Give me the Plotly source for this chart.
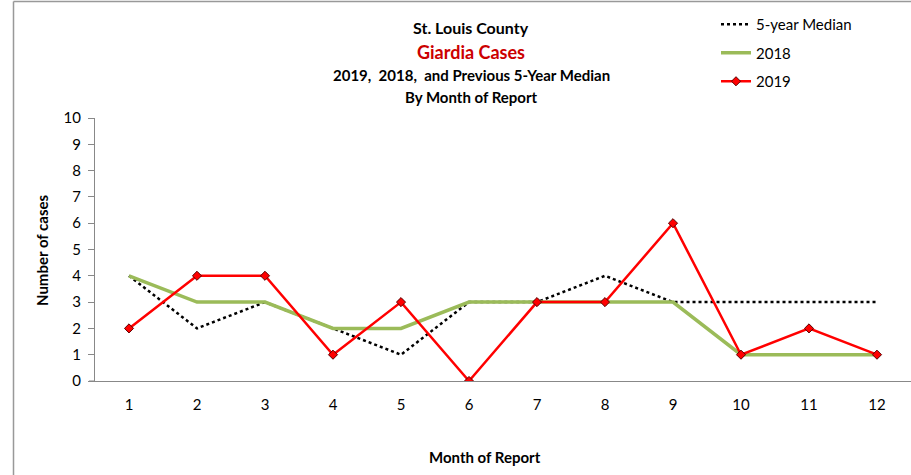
import plotly.graph_objects as go

months = [1, 2, 3, 4, 5, 6, 7, 8, 9, 10, 11, 12]
median_5yr = [4, 2, 3, 2, 1, 3, 3, 4, 3, 3, 3, 3]
cases_2018 = [4, 3, 3, 2, 2, 3, 3, 3, 3, 1, 1, 1]
cases_2019 = [2, 4, 4, 1, 3, 0, 3, 3, 6, 1, 2, 1]
y_ticks = list(range(0, 11))

FONT = "Lato, Carlito, Calibri, sans-serif"
W, H = 911, 475
L, R, T, B = 95, 0, 118, 94
pw, ph = W - L - R, H - T - B

def px(x):
    return (x - L) / pw

def py(y):
    return (H - B - y) / ph

fig = go.Figure()
fig.add_trace(go.Scatter(x=months, y=median_5yr, mode="lines", name="5-year Median",
                         line=dict(color="black", width=2.5, dash="dot"), legendgroup="a"))
fig.add_trace(go.Scatter(x=months, y=cases_2018, mode="lines", name="2018",
                         line=dict(color="#9BBB59", width=3.5), legendgroup="b"))
fig.add_trace(go.Scatter(x=months, y=cases_2019, mode="lines+markers", name="2019",
                         line=dict(color="#FF0000", width=2.5),
                         marker=dict(symbol="diamond", size=7, color="#FF0000",
                                     line=dict(color="#5a0000", width=1)),
                         legendgroup="c"))

title_lines = [
    ("<b>St. Louis County</b>", 28, 16, "black"),
    ("<b>Giardia Cases</b>", 52, 18, "#CC0000"),
    ("<b>2019,  2018,  and Previous 5-Year Median</b>", 75, 15, "black"),
    ("<b>By Month of Report</b>", 97, 15, "black"),
]
annotations = []
for text, ypix, size, color in title_lines:
    annotations.append(dict(text=text, x=px(471), y=py(ypix), xref="paper", yref="paper",
                            showarrow=False, xanchor="center", yanchor="middle",
                            font=dict(family=FONT, size=size, color=color)))
annotations.append(dict(text="<b>Month of Report</b>", x=px(485), y=py(457), xref="paper",
                        yref="paper", showarrow=False, xanchor="center", yanchor="middle",
                        font=dict(family=FONT, size=15, color="black")))
annotations.append(dict(text="<b>Number of cases</b>", x=px(42), y=py(250), xref="paper",
                        yref="paper", showarrow=False, xanchor="center", yanchor="middle",
                        textangle=-90, font=dict(family=FONT, size=15, color="black")))

shapes = [
    dict(type="line", xref="paper", yref="paper", x0=px(13.5), x1=px(13.5), y0=py(1.5), y1=py(480),
         line=dict(color="#999999", width=1.5)),
    dict(type="line", xref="paper", yref="paper", x0=px(13.5), x1=px(915), y0=py(1.5), y1=py(1.5),
         line=dict(color="#999999", width=1.5)),
    dict(type="line", xref="paper", yref="paper", x0=px(89), x1=px(95), y0=0, y1=0,
         line=dict(color="#888888", width=1)),
]

fig.update_layout(
    width=W, height=H,
    margin=dict(l=L, r=R, t=T, b=B),
    paper_bgcolor="white", plot_bgcolor="white",
    font=dict(family=FONT, size=15, color="black"),
    showlegend=True,
    legend=dict(x=px(716), y=py(8), xanchor="left", yanchor="top",
                xref="paper", yref="paper",
                font=dict(family=FONT, size=15), tracegroupgap=6,
                traceorder="grouped", bgcolor="rgba(0,0,0,0)"),
    annotations=annotations,
    shapes=shapes,
    xaxis=dict(range=[0.5, 12.5], tickmode="array", tickvals=months,
               ticktext=[str(m) for m in months], showgrid=False, zeroline=False,
               showline=True, linecolor="#888888", linewidth=1, ticks="",
               ticklabelstandoff=10, tickfont=dict(family=FONT, size=15)),
    yaxis=dict(range=[0, 10], tickmode="array", tickvals=y_ticks, showgrid=False,
               zeroline=False, showline=True, linecolor="#888888", linewidth=1,
               ticks="outside", ticklen=6, tickcolor="#888888",
               ticklabelstandoff=4, tickfont=dict(family=FONT, size=15)),
)

fig.write_html("out.html", config={"displayModeBar": False},
               post_script="document.body.style.margin='0';document.body.style.overflow='hidden';")
